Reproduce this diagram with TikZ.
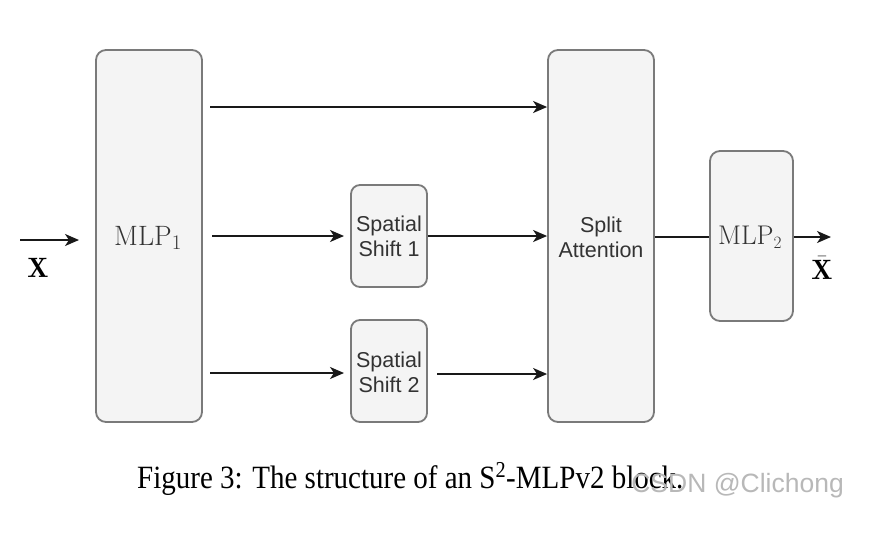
\documentclass[tikz,border=0pt]{standalone}
\usepackage{fontspec}
\usepackage{amsmath}
\newfontfamily\arialf{Liberation Sans}
\newfontfamily\timesf{Liberation Serif}
\usetikzlibrary{arrows.meta}
\definecolor{boxfill}{HTML}{F4F4F4}
\definecolor{boxline}{HTML}{7A7A7A}
\definecolor{txt}{HTML}{333333}
\begin{document}
\begin{tikzpicture}[x=1pt,y=-1pt,
  blk/.style={draw=boxline,fill=boxfill,line width=1.8pt,rounded corners=10pt,minimum width=#1,inner sep=0pt},
  sans/.style={font=\arialf\fontsize{21.5}{25}\selectfont,text=txt,align=center},
  arr/.style={-{Stealth[length=14pt,width=12pt,inset=4pt]},line width=2pt,draw=black!90},
  ln/.style={line width=2pt,draw=black!90}]
\useasboundingbox (0,0) rectangle (888,536);
\node[blk=106pt,minimum height=372pt] (mlp1) at (149,236) {};
\node[font=\fontsize{28}{32}\selectfont,text=txt] at (148,238) {$\mathrm{MLP}_1$};
\node[blk=106pt,minimum height=372pt] (sa) at (601,236) {};
\node[sans] at (601,237) {Split\\Attention};
\node[blk=76pt,minimum height=102pt,rounded corners=9pt] (ss1) at (389,236) {};
\node[sans] at (389,236) {Spatial\\Shift 1};
\node[blk=76pt,minimum height=102pt,rounded corners=9pt] (ss2) at (389,371) {};
\node[sans] at (389,372) {Spatial\\Shift 2};
\node[blk=83pt,minimum height=170pt] (mlp2) at (751.5,236) {};
\node[font=\fontsize{27}{32}\selectfont,text=txt] at (750,237) {$\mathrm{MLP}_2$};
% connectors
\coordinate (in0) at (20,240);
\coordinate (in1) at (79,240);
\draw[arr] (in0) -- (in1);
\node[font=\fontsize{28}{32}\selectfont] (xin) at (38,268) {$\mathbf{X}$};
\coordinate (t0) at (210,107);
\draw[arr] (t0) -- (sa.west |- t0);
\coordinate (m0) at (212,236);
\coordinate (m1) at (344,236);
\draw[arr] (m0) -- (m1);
\draw[arr] (ss1.east) -- (sa.west |- ss1.east);
\coordinate (b0) at (210,373);
\coordinate (b1) at (344,373);
\draw[arr] (b0) -- (b1);
\coordinate (c0) at (437,374);
\draw[arr] (c0) -- (sa.west |- c0);
\coordinate (o0) at (654,237);
\draw[ln] (sa.east |- o0) -- (mlp2.west |- o0);
\coordinate (o1) at (831,237);
\draw[arr] (mlp2.east |- o1) -- (o1);
\node[font=\fontsize{28}{32}\selectfont,inner sep=1pt] (xout) at (822,268) {$\bar{\mathbf{X}}$};
% caption
\node[font=\timesf\fontsize{29}{32}\selectfont,anchor=west,yscale=1.12,inner sep=0pt] (cap) at (137,479) {Figure 3: The structure of an S\textsuperscript{2}-MLPv2 block.};
\node[font=\arialf\fontsize{26.5}{30}\selectfont,text=black!28,anchor=east,inner sep=0pt] (wm) at (844,486) {CSDN @Clichong};
\end{tikzpicture}
\end{document}
